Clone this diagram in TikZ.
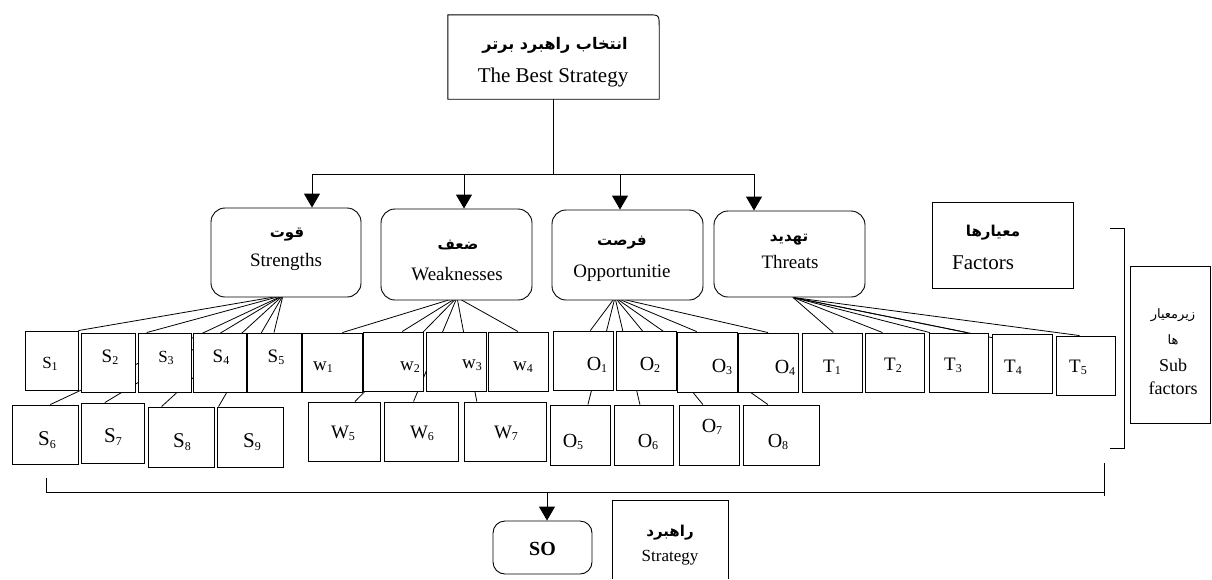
\documentclass[tikz,border=0pt]{standalone}
\usepackage{fontspec}
\setmainfont{Liberation Serif}
\newfontfamily\fa[Script=Arabic]{DejaVu Sans}
\TeXXeTstate=1
\usetikzlibrary{calc,arrows.meta,backgrounds}
\newcommand{\fat}[1]{\beginR #1\endR}
\newcommand{\sbn}[1]{\raisebox{-0.25ex}{\fontsize{12}{12}\selectfont #1}}
\newcommand{\fs}[1]{\fontsize{#1}{#1}\selectfont}
% name, center, width, height, text position, label
\newcommand{\subf}[6]{%
  \node[sbox, minimum width=#3pt, minimum height=#4pt] (#1) at (#2) {};
  \node[stext] (#1t) at (#5) {#6};}
\newcommand{\cn}[3]{\draw[conn] (#1) -- ($(#2.north west)!#3!(#2.north east)$);}
\begin{document}
\begin{tikzpicture}[x=1pt,y=-1pt,
  sbox/.style={draw, line width=0.9pt, fill=white, inner sep=0pt},
  stext/.style={inner sep=0pt, font=\fs{19}},
  catbox/.style={draw, rounded corners=14pt, line width=0.9pt, inner sep=0pt, fill=white},
  plainbox/.style={draw, line width=0.9pt, inner sep=0pt},
  ptext/.style={inner sep=0pt, font=\fa\bfseries\fs{15}},
  etext/.style={inner sep=0pt, font=\fs{19}},
  conn/.style={line width=0.8pt},
  arr/.style={line width=0.9pt, -{Triangle[width=16pt,length=14pt]}}]
\useasboundingbox (0,0) rectangle (1212,579);

% top box
\node[inner sep=0pt, minimum width=211pt, minimum height=84pt] (top) at (553.5,57) {};
\draw[line width=0.9pt] (top.south west) -- (top.north west) -- ($(top.north east)+(-12,0)$)
  .. controls (top.north east) .. ($(top.north east)+(0,12)$) -- (top.south east) -- cycle;
\node[ptext, font=\fa\bfseries\fs{16}] (topfa) at (555,45) {\fat{انتخاب راهبرد برتر}};
\node[etext, font=\fs{21}] (topen) at (553,77) {The Best Strategy};

% category boxes
\node[catbox, minimum width=150pt, minimum height=89pt] (str) at (286,252.5) {};
\node[catbox, minimum width=151pt, minimum height=91pt] (weak) at (456.5,254.5) {};
\node[catbox, minimum width=151pt, minimum height=90pt] (opp) at (627.5,255) {};
\node[catbox, minimum width=151pt, minimum height=86pt] (thr) at (789.5,254) {};
\node[ptext] (strfa) at (287,235) {\fat{قوت}};
\node[etext] (stren) at (286,262) {Strengths};
\node[ptext] (weakfa) at (458,245) {\fat{ضعف}};
\node[etext] (weaken) at (457,274) {Weaknesses};
\node[ptext] (oppfa) at (622,243) {\fat{فرصت}};
\node[etext] (oppen) at (622,273) {Opportunitie};
\node[ptext] (thrfa) at (789,240) {\fat{تهدید}};
\node[etext] (thren) at (790,262) {Threats};

% factors box
\node[plainbox, minimum width=141pt, minimum height=86pt] (fac) at (1002.5,245) {};
\node[ptext] (facfa) at (993,233) {\fat{معیارها}};
\node[etext, font=\fs{21}] (facen) at (983,263) {Factors};

% sub factors box
\node[plainbox, minimum width=80pt, minimum height=157pt] (subf) at (1170,344.5) {};
\node[inner sep=0pt, font=\fa\fs{13}] (subfa1) at (1173,315) {\fat{زیرمعیار}};
\node[inner sep=0pt, font=\fa\fs{13}] (subfa2) at (1173,340) {\fat{ها}};
\node[etext, font=\fs{18}] (suben1) at (1173,365) {Sub};
\node[etext, font=\fs{18}] (suben2) at (1173,388) {factors};

% bracket
\coordinate (b1) at (1110,228);
\coordinate (b2) at (1124,228);
\coordinate (b3) at (1124,448);
\coordinate (b4) at (1110,448);
\draw[line width=0.9pt] (b1) -- (b2) -- (b3) -- (b4);

% row 1
\subf{S1}{51.5,360.5}{53}{59}{50,364}{\fs{17}S\sbn{1}}
\subf{S2}{108,362.5}{54}{59}{110,357}{S\sbn{2}}
\subf{S3}{164.5,362.5}{53}{59}{166,358}{\fs{17}S\sbn{3}}
\subf{S4}{219.5,362.5}{53}{59}{221,357}{S\sbn{4}}
\subf{S5}{274,362.5}{54}{59}{276,357}{S\sbn{5}}
\subf{w1}{332,362.5}{60}{59}{323,367}{w\sbn{1}}
\subf{w2}{393,361.5}{60}{59}{410,367}{w\sbn{2}}
\subf{w3}{456,361.5}{60}{59}{472,365}{w\sbn{3}}
\subf{w4}{518,361.5}{60}{59}{523,367}{w\sbn{4}}
\subf{O1}{583,360.5}{60}{59}{597,365}{\fs{20}O\sbn{1}}
\subf{O2}{646,360.5}{60}{59}{650,365}{\fs{20}O\sbn{2}}
\subf{O3}{707,362}{60}{60}{722,367}{\fs{20}O\sbn{3}}
\subf{O4}{768,362.5}{60}{59}{785,368}{\fs{20}O\sbn{4}}
\subf{T1}{832,362.5}{60}{59}{832,367}{T\sbn{1}}
\subf{T2}{894.5,362.5}{59}{59}{893,365}{T\sbn{2}}
\subf{T3}{958.5,362.5}{59}{59}{953,365}{T\sbn{3}}
\subf{T4}{1022,363.5}{60}{59}{1013,367}{T\sbn{4}}
\subf{T5}{1085.5,365.5}{59}{59}{1078,367}{T\sbn{5}}

% row 2
\subf{S6}{45,434.5}{66}{59}{47,440}{\fs{21}S\sbn{6}}
\subf{S7}{112.5,433}{63}{60}{113,437}{\fs{21}S\sbn{7}}
\subf{S8}{181,437}{66}{60}{182,442}{\fs{21}S\sbn{8}}
\subf{S9}{250,437}{66}{60}{252,442}{\fs{21}S\sbn{9}}
\subf{W5}{344,431.5}{72}{59}{343,433}{W\sbn{5}}
\subf{W6}{421,431.5}{74}{59}{422,433}{W\sbn{6}}
\subf{W7}{505,431.5}{82}{59}{506,433}{W\sbn{7}}
\subf{O5}{580,435}{60}{60}{573,442}{\fs{20}O\sbn{5}}
\subf{O6}{643.5,435}{59}{60}{648,442}{\fs{20}O\sbn{6}}
\subf{O7}{709,435}{60}{60}{712,427}{\fs{20}O\sbn{7}}
\subf{O8}{781,435}{76}{60}{778,442}{\fs{20}O\sbn{8}}

% apexes
\coordinate (sA) at ($(str.south)+(-3,-2)$);
\coordinate (wA) at ($(weak.south)+(0.5,-3)$);
\coordinate (oA) at ($(opp.south)+(-12.5,-3)$);
\coordinate (tA) at ($(thr.south)+(3.5,0)$);

\begin{pgfonlayer}{background}
\cn{sA}{S1}{1.0}
\cn{sA}{S3}{0.17}
\cn{sA}{S5}{0.5}
\cn{sA}{S6}{0.58}
\cn{sA}{S7}{0.38}
\cn{sA}{S8}{0.21}
\cn{sA}{S9}{0.03}
\cn{wA}{w1}{0.67}
\cn{wA}{w2}{0.65}
\cn{wA}{w4}{0.5}
\cn{wA}{W5}{0.65}
\cn{wA}{W6}{0.4}
\cn{wA}{W7}{0.16}
\cn{oA}{O1}{0.62}
\cn{oA}{O3}{0.33}
\cn{oA}{O4}{0.5}
\cn{oA}{O5}{0.63}
\cn{oA}{O6}{0.44}
\cn{oA}{O7}{0.4}
\cn{oA}{O8}{0.33}
\cn{tA}{T1}{0.52}
\cn{tA}{T2}{0.3}
\cn{tA}{T3}{0.02}
\cn{tA}{T3}{0.64}
\draw[conn] (tA) -- ($(T4.north west)+(10,6)$);
\cn{tA}{T5}{0.4}
\end{pgfonlayer}

% top bus and arrows
\coordinate (j) at (top.south |- 0,174);
\coordinate (a1) at (312,174);
\coordinate (a2) at (464,174);
\coordinate (a3) at (620,174);
\coordinate (a4) at (754,174);
\draw[line width=0.9pt] (top.south) -- (j);
\draw[line width=0.9pt] (a1) -- (a4);
\draw[arr] (a1) -- (a1 |- str.north);
\draw[arr] (a2) -- (a2 |- weak.north);
\draw[arr] (a3) -- (a3 |- opp.north);
\draw[arr] (a4) -- (a4 |- thr.north);

% bottom
\node[catbox, rounded corners=12pt, minimum width=99pt, minimum height=53pt] (so) at (542.5,547.5) {};
\node[etext, font=\bfseries\fs{20}] (sot) at (542.5,549) {SO};
\node[inner sep=0pt, minimum width=115pt, minimum height=78pt] (stg) at (670.5,540) {};
\draw[line width=0.9pt] (stg.south west) -- (stg.north west) -- (stg.north east) -- (stg.south east);
\node[ptext] (stgfa) at (670,533) {\fat{راهبرد}};
\node[etext, font=\fs{17}] (stgen) at (670,558) {Strategy};

\coordinate (l1) at (46,478);
\coordinate (l2) at (46,492);
\coordinate (r2) at (1104,492);
\coordinate (r1) at (1104,463);
\coordinate (r3) at (1104,496);
\coordinate (m) at (so.north |- l2);
\draw[line width=0.9pt] (l1) -- (l2) -- (r2);
\draw[line width=0.9pt] (r1) -- (r3);
\draw[arr] ($(m)+(4.5,0)$) -- ($(so.north)+(4.5,0)$);
\end{tikzpicture}
\end{document}
